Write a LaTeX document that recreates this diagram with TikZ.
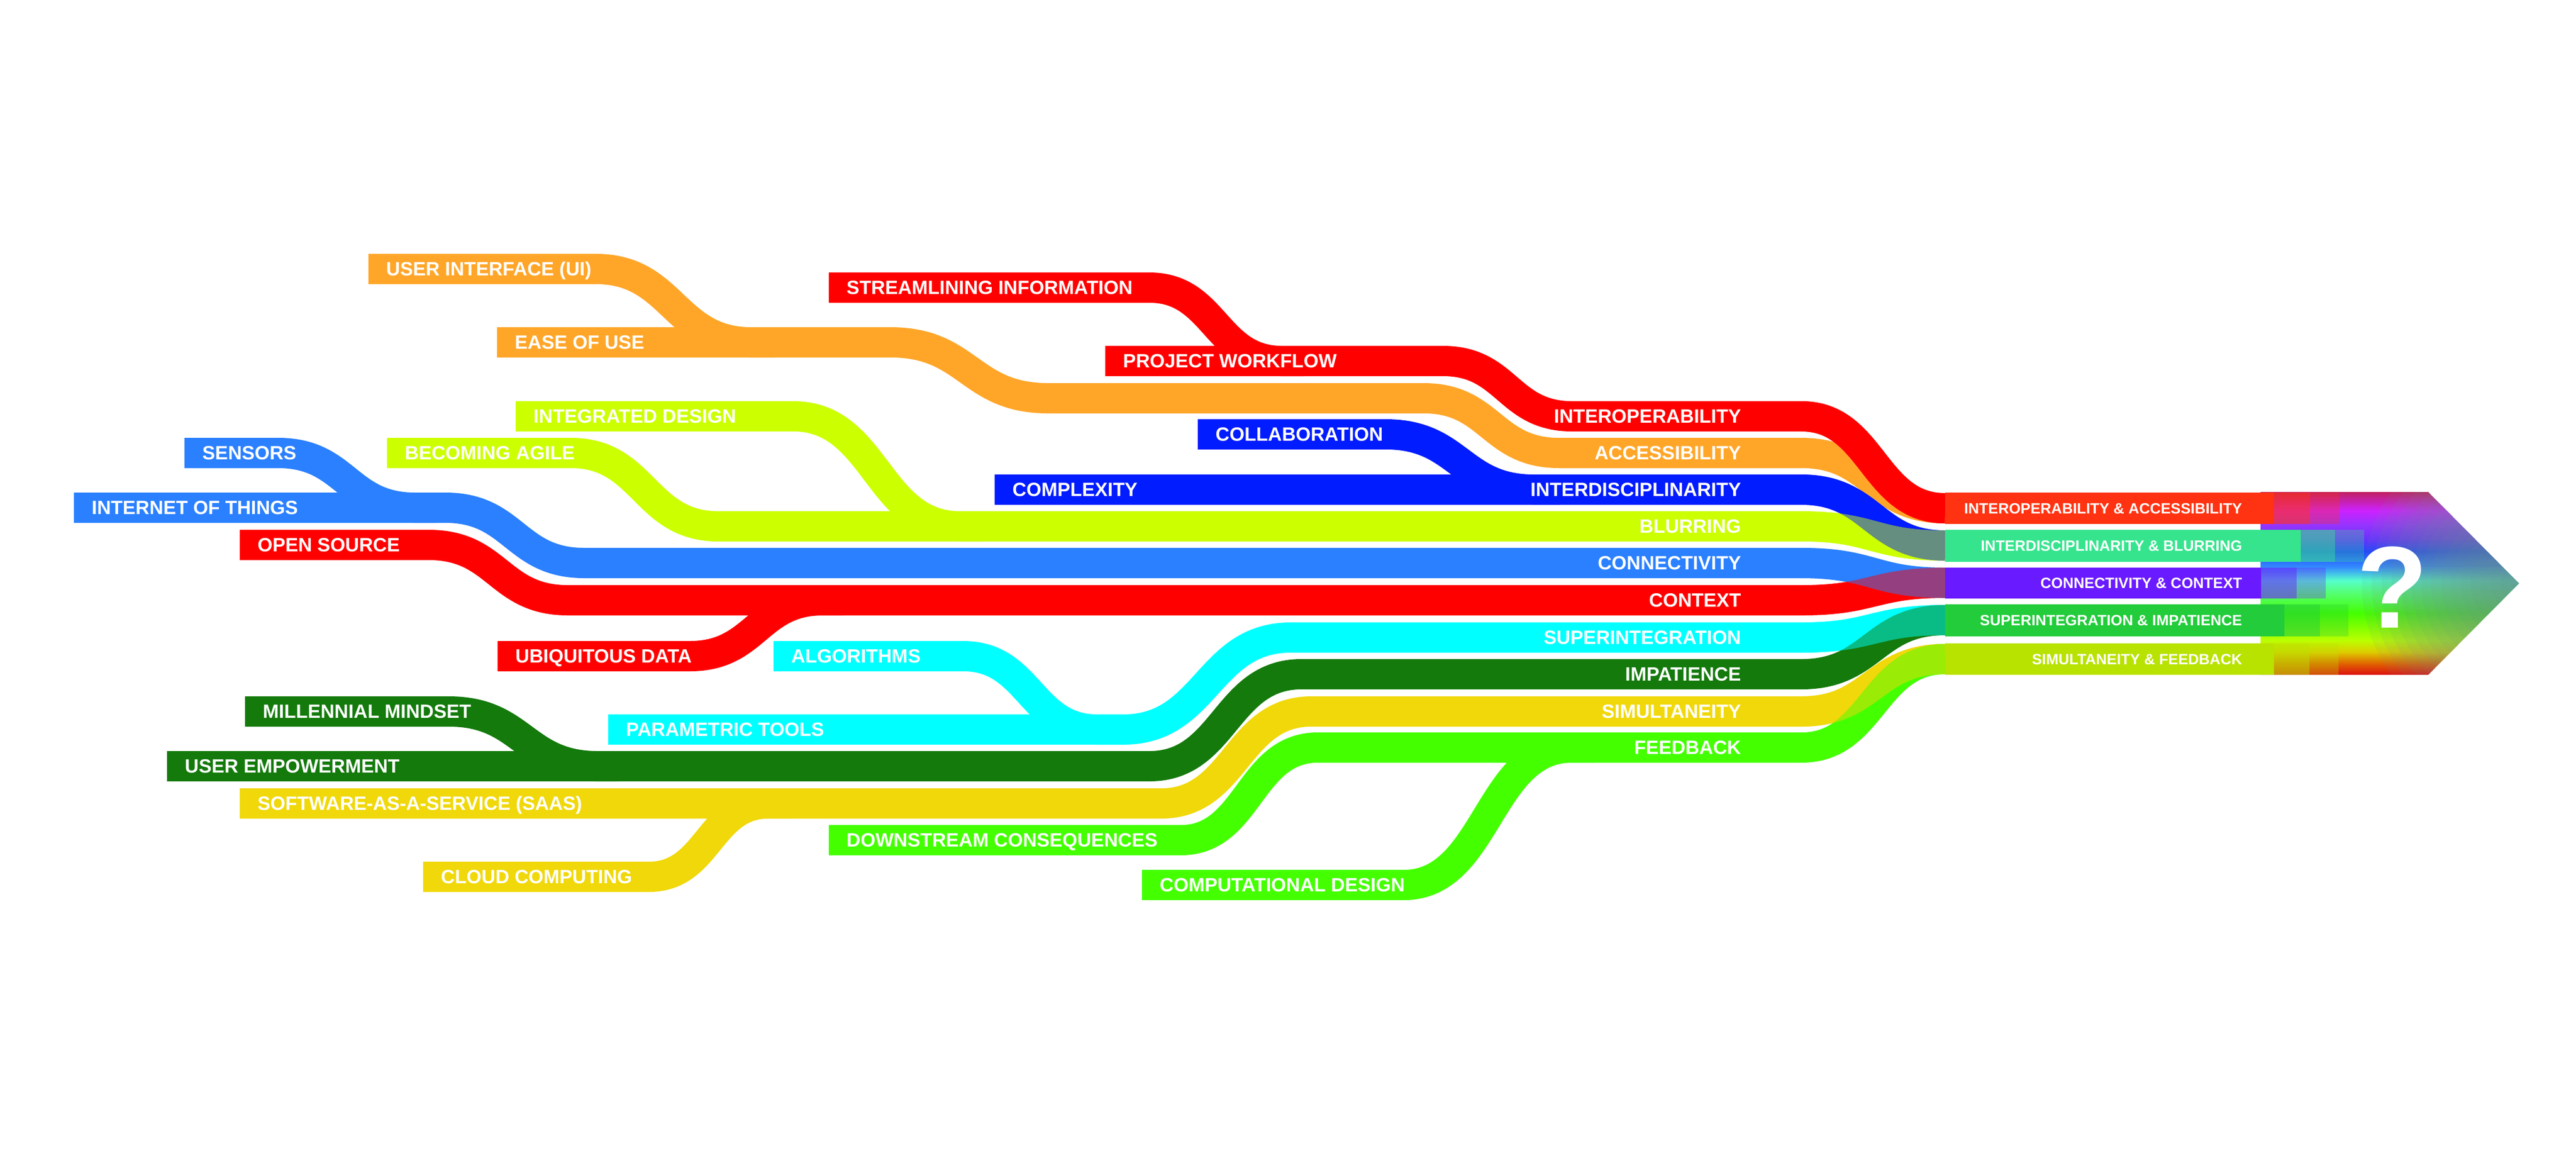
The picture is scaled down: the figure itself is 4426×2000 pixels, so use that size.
\documentclass[tikz,border=0pt]{standalone}
\usepackage{fontspec}
\setmainfont{Liberation Sans}
\definecolor{cRed}{HTML}{FF0000}
\definecolor{cOrange}{HTML}{FFA629}
\definecolor{cBlue}{HTML}{001CFF}
\definecolor{cLime}{HTML}{CCFF00}
\definecolor{cSky}{HTML}{2A80FF}
\definecolor{cCyan}{HTML}{00FFFF}
\definecolor{cDkGreen}{HTML}{137A0B}
\definecolor{cYellow}{HTML}{F0D80A}
\definecolor{cGreen}{HTML}{44FF00}
\definecolor{mOne}{HTML}{FF3311}
\definecolor{mTwo}{HTML}{36E48E}
\definecolor{mThree}{HTML}{6A1AFF}
\definecolor{mFour}{HTML}{22CC3A}
\definecolor{mFive}{HTML}{B8E200}
\definecolor{gA}{HTML}{DD1010}
\definecolor{gB}{HTML}{E06000}
\definecolor{gC}{HTML}{DDCC00}
\definecolor{gD}{HTML}{BBFF00}
\definecolor{gE}{HTML}{44FF00}
\definecolor{gF}{HTML}{55FF77}
\definecolor{gG}{HTML}{55FFCC}
\definecolor{gH}{HTML}{3388FF}
\definecolor{gI}{HTML}{2244FF}
\definecolor{gJ}{HTML}{6633FF}
\definecolor{gK}{HTML}{9933FF}
\definecolor{gL}{HTML}{CC22FF}
\definecolor{gM}{HTML}{C02060}
\definecolor{tipGray}{HTML}{6A9090}
\pgfdeclareverticalshading{rainbowv}{100bp}{color(0bp)=(gA); color(25bp)=(gA); color(28bp)=(gB); color(31.2bp)=(gC); color(34.4bp)=(gD); color(41.9bp)=(gE); color(47.6bp)=(gF); color(50.8bp)=(gG); color(54.6bp)=(gH); color(58.75bp)=(gI); color(61.95bp)=(gJ); color(66.25bp)=(gK); color(69.9bp)=(gL); color(75bp)=(gM); color(100bp)=(gM)}
\begin{document}
\begin{tikzpicture}[x=0.1mm,y=-0.1mm,
  band/.style={line width=5.2mm},
  lbl/.style={anchor=base west,inner sep=0pt,text=white,font=\bfseries\fontsize{9.4pt}{11pt}\selectfont},
  rlbl/.style={lbl,anchor=base east},
  mlbl/.style={anchor=base east,inner sep=0pt,text=white,font=\bfseries\fontsize{7.3pt}{9pt}\selectfont},
  qlbl/.style={anchor=base,inner sep=0pt,text=white,font=\bfseries\fontsize{56.9pt}{60pt}\selectfont}]
\fill[white] (0,0) rectangle (4426,2000);
\useasboundingbox (0,0) rectangle (4426,2000);

% ---------- gradient arrow ----------
\shade[shading=rainbowv] (3884,845) -- (4172,845) -- (4328,1002) -- (4172,1159) -- (3884,1159) -- cycle;
\begin{scope}
\clip (3884,845) -- (4172,845) -- (4328,1002) -- (4172,1159) -- (3884,1159) -- cycle;
\foreach \r in {270,253,...,10} {
  \fill[tipGray,opacity=0.09] (4328,1002) circle[radius=\r];
}
\end{scope}

% ---------- bands ----------
% orange
\draw[band,cOrange] (633,462) -- (1024,462) .. controls (1157,462) and (1157,588) .. (1291,588) -- (1330,588);
\draw[band,cOrange] (854,588) -- (1530,588) .. controls (1665,588) and (1665,684) .. (1801,684) -- (2446,684) .. controls (2562,684) and (2562,778) .. (2679,778) -- (3095,778) .. controls (3218,778) and (3218,873) .. (3342,873);
% red top
\draw[band,cRed] (1424,494) -- (1975,494) .. controls (2088,494) and (2088,620) .. (2202,620) -- (2240,620);
\draw[band,cRed] (1899,620) -- (2479,620) .. controls (2590,620) and (2590,715) .. (2701,715) -- (3095,715) .. controls (3218,715) and (3218,873) .. (3342,873);
% blue
\draw[band,cBlue] (2058,746) -- (2381,746) .. controls (2508,746) and (2508,841) .. (2636,841) -- (2680,841);
\draw[band,cBlue] (1709,841) -- (3095,841) .. controls (3218,841) and (3218,937) .. (3342,937);
% lime
\draw[band,cLime] (886,715) -- (1363,715) .. controls (1506,715) and (1506,904) .. (1649,904) -- (1690,904);
\draw[band,cLime] (665,778) -- (981,778) .. controls (1107,778) and (1107,904) .. (1234,904) -- (3095,904) .. controls (3218,904) and (3218,937) .. (3342,937);
% sky
\draw[band,cSky] (317,778) -- (478,778) .. controls (595,778) and (595,872) .. (713,872) -- (750,872);
\draw[band,cSky] (127,872) -- (765,872) .. controls (884,872) and (884,967) .. (1004,967) -- (3095,967) .. controls (3218,967) and (3218,1001) .. (3342,1001);
% red context
\draw[band,cRed] (412,936) -- (737,936) .. controls (856,936) and (856,1031) .. (976,1031) -- (3095,1031) .. controls (3218,1031) and (3218,1001) .. (3342,1001);
\draw[band,cRed] (855,1127) -- (1185,1127) .. controls (1300,1127) and (1300,1031) .. (1414,1031) -- (1450,1031);
% cyan
\draw[band,cCyan] (1329,1127) -- (1655,1127) .. controls (1770,1127) and (1770,1253) .. (1885,1253) -- (1935,1253);
\draw[band,cCyan] (1045,1253) -- (1930,1253) .. controls (2074,1253) and (2074,1095) .. (2218,1095) -- (3095,1095) .. controls (3218,1095) and (3218,1065) .. (3342,1065);
% dark green
\draw[band,cDkGreen] (421,1222) -- (771,1222) .. controls (899,1222) and (899,1316) .. (1027,1316) -- (1060,1316);
\draw[band,cDkGreen] (287,1316) -- (1975,1316) .. controls (2105,1316) and (2105,1158) .. (2236,1158) -- (3095,1158) .. controls (3218,1158) and (3218,1065) .. (3342,1065);
% yellow
\draw[band,cYellow] (412,1380) -- (1995,1380) .. controls (2124,1380) and (2124,1222) .. (2253,1222) -- (3095,1222) .. controls (3218,1222) and (3218,1132) .. (3342,1132);
\draw[band,cYellow] (727,1506) -- (1115,1506) .. controls (1218,1506) and (1218,1380) .. (1320,1380) -- (1360,1380);
% green
\draw[band,cGreen] (1424,1443) -- (2029,1443) .. controls (2146,1443) and (2146,1284) .. (2264,1284) -- (3095,1284) .. controls (3218,1284) and (3218,1132) .. (3342,1132);
\draw[band,cGreen] (1962,1520) -- (2412,1520) .. controls (2556,1520) and (2556,1284) .. (2700,1284) -- (2740,1284);

% ---------- blended overlaps in the merge ----------
\draw[band,cRed,opacity=0.5] (3095,715) .. controls (3218,715) and (3218,873) .. (3342,873);
\draw[band,cBlue,opacity=0.5] (3095,841) .. controls (3218,841) and (3218,937) .. (3342,937);
\draw[band,cSky,opacity=0.5] (3095,967) .. controls (3218,967) and (3218,1001) .. (3342,1001);
\draw[band,cCyan,opacity=0.5] (3095,1095) .. controls (3218,1095) and (3218,1065) .. (3342,1065);
\draw[band,cYellow,opacity=0.5] (3095,1222) .. controls (3218,1222) and (3218,1132) .. (3342,1132);

% ---------- merged boxes and steps ----------
\fill[mOne] (3342,846) rectangle (3907,900);
\fill[mOne,opacity=0.6] (3907,846) rectangle (3969,900);
\fill[mOne,opacity=0.3] (3969,846) rectangle (4019,900);
\fill[mTwo] (3342,910) rectangle (3953,965);
\fill[mTwo,opacity=0.6] (3953,910) rectangle (4012,965);
\fill[mTwo,opacity=0.3] (4012,910) rectangle (4062,965);
\fill[mThree] (3342,975) rectangle (3885,1028);
\fill[mThree,opacity=0.6] (3885,975) rectangle (3946,1028);
\fill[mThree,opacity=0.3] (3946,975) rectangle (3996,1028);
\fill[mFour] (3342,1038) rectangle (3925,1093);
\fill[mFour,opacity=0.6] (3925,1038) rectangle (3986,1093);
\fill[mFour,opacity=0.3] (3986,1038) rectangle (4035,1093);
\fill[mFive] (3342,1105) rectangle (3907,1159);
\fill[mFive,opacity=0.6] (3907,1105) rectangle (3968,1159);
\fill[mFive,opacity=0.3] (3968,1105) rectangle (4018,1159);

% ---------- left labels ----------
\node[lbl] (ui) at (663,473) {USER INTERFACE (UI)};
\node[lbl] (ease) at (884,599) {EASE OF USE};
\node[lbl] (stream) at (1454,505) {STREAMLINING INFORMATION};
\node[lbl] (pw) at (1929,631) {PROJECT WORKFLOW};
\node[lbl] (collab) at (2088,757) {COLLABORATION};
\node[lbl] (compl) at (1739,852) {COMPLEXITY};
\node[lbl] (intd) at (916,726) {INTEGRATED DESIGN};
\node[lbl] (agile) at (695,789) {BECOMING AGILE};
\node[lbl] (sens) at (347,789) {SENSORS};
\node[lbl] (iot) at (157,883) {INTERNET OF THINGS};
\node[lbl] (os) at (442,947) {OPEN SOURCE};
\node[lbl] (ubi) at (885,1138) {UBIQUITOUS DATA};
\node[lbl] (algo) at (1359,1138) {ALGORITHMS};
\node[lbl] (param) at (1075,1264) {PARAMETRIC TOOLS};
\node[lbl] (mill) at (451,1233) {MILLENNIAL MINDSET};
\node[lbl] (uemp) at (317,1327) {USER EMPOWERMENT};
\node[lbl] (saas) at (442,1391) {SOFTWARE-AS-A-SERVICE (SAAS)};
\node[lbl] (cloud) at (757,1517) {CLOUD COMPUTING};
\node[lbl] (down) at (1454,1454) {DOWNSTREAM CONSEQUENCES};
\node[lbl] (comp) at (1992,1531) {COMPUTATIONAL DESIGN};

% ---------- right labels ----------
\node[rlbl] (interop) at (2992,726) {INTEROPERABILITY};
\node[rlbl] (access) at (2992,789) {ACCESSIBILITY};
\node[rlbl] (interd) at (2992,852) {INTERDISCIPLINARITY};
\node[rlbl] (blur) at (2992,915) {BLURRING};
\node[rlbl] (conn) at (2992,978) {CONNECTIVITY};
\node[rlbl] (ctx) at (2992,1042) {CONTEXT};
\node[rlbl] (supi) at (2992,1106) {SUPERINTEGRATION};
\node[rlbl] (imp) at (2992,1169) {IMPATIENCE};
\node[rlbl] (simu) at (2992,1233) {SIMULTANEITY};
\node[rlbl] (feed) at (2992,1295) {FEEDBACK};

% ---------- merged labels ----------
\node[mlbl] (m1) at (3853,882) {INTEROPERABILITY \& ACCESSIBILITY};
\node[mlbl] (m2) at (3853,946) {INTERDISCIPLINARITY \& BLURRING};
\node[mlbl] (m3) at (3853,1010) {CONNECTIVITY \& CONTEXT};
\node[mlbl] (m4) at (3853,1074) {SUPERINTEGRATION \& IMPATIENCE};
\node[mlbl] (m5) at (3853,1141) {SIMULTANEITY \& FEEDBACK};

\node[qlbl] (q) at (4111,1078) {?};
\end{tikzpicture}
\end{document}
